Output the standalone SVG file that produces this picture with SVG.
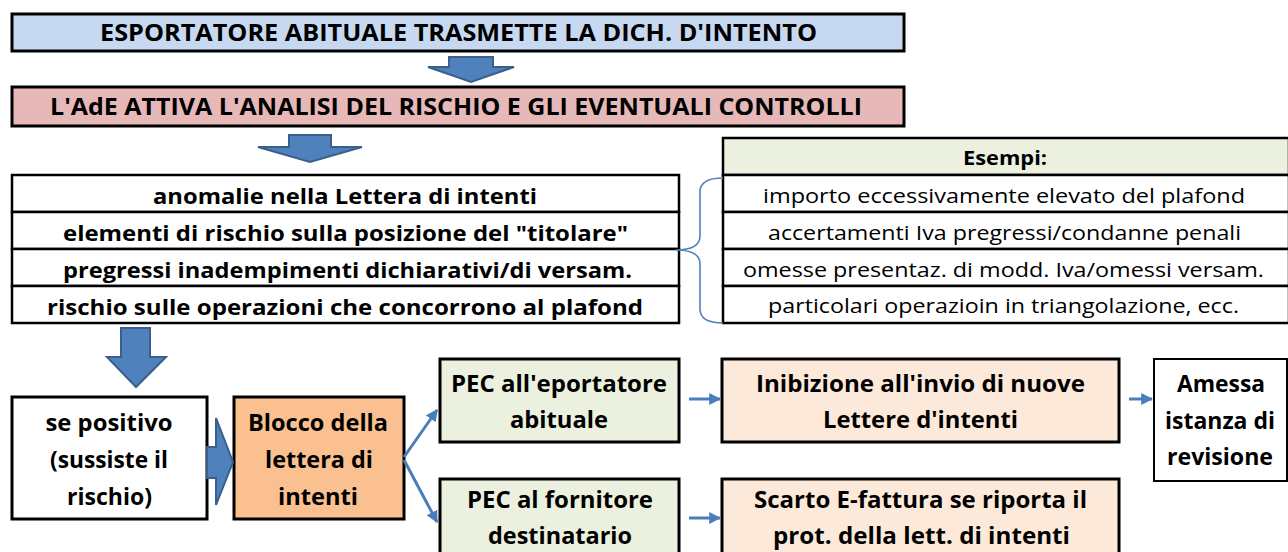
<svg xmlns="http://www.w3.org/2000/svg" width="1288" height="552" viewBox="0 0 1288 552">
<defs>
<style>
.box{stroke:#000;stroke-width:3}
.cell{fill:#fff;stroke:#000;stroke-width:2.5}
.t{font-family:"Open Sans","Liberation Sans",sans-serif;font-weight:bold;fill:#000;text-anchor:middle}
.n{font-family:"Open Sans","Liberation Sans",sans-serif;font-weight:normal;fill:#000;text-anchor:middle}
.s25{font-size:24px}
.s22{font-size:21px}
.s21{font-size:20px}
.blk{fill:#4f81bd;stroke:#3a5f8b;stroke-width:2;stroke-linejoin:miter}
.ln{fill:none;stroke:#4a7ebb;stroke-width:3}
</style>
<marker id="ah" viewBox="0 0 10 10" refX="9" refY="5" markerWidth="4" markerHeight="4" orient="auto" markerUnits="strokeWidth">
<path d="M0,0 L10,5 L0,10 z" fill="#4a7ebb"/>
</marker>
</defs>
<rect width="1288" height="552" fill="#fff"/>

<g id="n_title1">
<rect class="box" x="12" y="14" width="892" height="37" fill="#c6d9f1"/>
<text class="t s25" x="458.5" y="41" textLength="717" lengthAdjust="spacingAndGlyphs">ESPORTATORE ABITUALE TRASMETTE LA DICH. D'INTENTO</text>
</g>

<g id="n_title2">
<rect class="box" x="12" y="87" width="892" height="39" fill="#e6b9b8"/>
<text class="t s25" x="456" y="115" textLength="812" lengthAdjust="spacingAndGlyphs">L'AdE ATTIVA L'ANALISI DEL RISCHIO E GLI EVENTUALI CONTROLLI</text>
</g>

<g id="n_criteria">
<rect class="cell" x="12" y="175" width="667" height="37"/>
<rect class="cell" x="12" y="212" width="667" height="37"/>
<rect class="cell" x="12" y="249" width="667" height="37"/>
<rect class="cell" x="12" y="286" width="667" height="37"/>
<text class="t s22" x="345" y="204" textLength="384" lengthAdjust="spacingAndGlyphs">anomalie nella Lettera di intenti</text>
<text class="t s22" x="345.5" y="241" textLength="565" lengthAdjust="spacingAndGlyphs">elementi di rischio sulla posizione del "titolare"</text>
<text class="t s22" x="347.5" y="278" textLength="569" lengthAdjust="spacingAndGlyphs">pregressi inadempimenti dichiarativi/di versam.</text>
<text class="t s22" x="345" y="315" textLength="596" lengthAdjust="spacingAndGlyphs">rischio sulle operazioni che concorrono al plafond</text>
</g>

<g id="n_esempi">
<rect class="cell" x="723" y="138" width="566" height="37" style="fill:#ebf1de"/>
<rect class="cell" x="723" y="175" width="566" height="37"/>
<rect class="cell" x="723" y="212" width="566" height="37"/>
<rect class="cell" x="723" y="249" width="566" height="37"/>
<rect class="cell" x="723" y="286" width="566" height="37"/>
<text class="t s21" x="1005" y="165" textLength="84" lengthAdjust="spacingAndGlyphs">Esempi:</text>
<text class="n s21" x="1004" y="203" textLength="482" lengthAdjust="spacingAndGlyphs">importo eccessivamente elevato del plafond</text>
<text class="n s21" x="1004.5" y="240" textLength="473" lengthAdjust="spacingAndGlyphs">accertamenti Iva pregressi/condanne penali</text>
<text class="n s21" x="1003.5" y="277" textLength="521" lengthAdjust="spacingAndGlyphs">omesse presentaz. di modd. Iva/omessi versam.</text>
<text class="n s21" x="1003.5" y="313" textLength="471" lengthAdjust="spacingAndGlyphs">particolari operazioin in triangolazione, ecc.</text>
</g>

<g id="n_positivo">
<rect class="box" x="12" y="397" width="195" height="122" fill="#fff"/>
<text class="t s25" x="109" y="431" textLength="127" lengthAdjust="spacingAndGlyphs">se positivo</text>
<text class="t s25" x="109" y="468" textLength="118" lengthAdjust="spacingAndGlyphs">(sussiste il</text>
<text class="t s25" x="109.5" y="505" textLength="85" lengthAdjust="spacingAndGlyphs">rischio)</text>
</g>

<g id="n_blocco">
<rect class="box" x="234" y="397" width="170" height="122" fill="#fac090"/>
<text class="t s25" x="318" y="431" textLength="140" lengthAdjust="spacingAndGlyphs">Blocco della</text>
<text class="t s25" x="319" y="468" textLength="108" lengthAdjust="spacingAndGlyphs">lettera di</text>
<text class="t s25" x="318" y="505" textLength="80" lengthAdjust="spacingAndGlyphs">intenti</text>
</g>

<g id="n_pec1">
<rect class="box" x="440" y="359" width="239" height="83" fill="#ebf1de"/>
<text class="t s25" x="559" y="392" textLength="216" lengthAdjust="spacingAndGlyphs">PEC all'eportatore</text>
<text class="t s25" x="559" y="428" textLength="98" lengthAdjust="spacingAndGlyphs">abituale</text>
</g>

<g id="n_pec2">
<rect class="box" x="440" y="479" width="239" height="90" fill="#ebf1de"/>
<text class="t s25" x="560" y="508" textLength="186" lengthAdjust="spacingAndGlyphs">PEC al fornitore</text>
<text class="t s25" x="560" y="544" textLength="144" lengthAdjust="spacingAndGlyphs">destinatario</text>
</g>

<g id="n_inibizione">
<rect class="box" x="722" y="359" width="397" height="83" fill="#fde9d9"/>
<text class="t s25" x="920.5" y="392" textLength="329" lengthAdjust="spacingAndGlyphs">Inibizione all'invio di nuove</text>
<text class="t s25" x="920.5" y="428" textLength="195" lengthAdjust="spacingAndGlyphs">Lettere d'intenti</text>
</g>

<g id="n_scarto">
<rect class="box" x="722" y="479" width="397" height="90" fill="#fde9d9"/>
<text class="t s25" x="920.5" y="508" textLength="333" lengthAdjust="spacingAndGlyphs">Scarto E-fattura se riporta il</text>
<text class="t s25" x="921.5" y="544" textLength="297" lengthAdjust="spacingAndGlyphs">prot. della lett. di intenti</text>
</g>

<g id="n_amessa">
<rect x="1154" y="359" width="133" height="122" fill="#fff" stroke="#000" stroke-width="2"/>
<text class="t s25" x="1221" y="392" textLength="88" lengthAdjust="spacingAndGlyphs">Amessa</text>
<text class="t s25" x="1220" y="429" textLength="110" lengthAdjust="spacingAndGlyphs">istanza di</text>
<text class="t s25" x="1220" y="465" textLength="106" lengthAdjust="spacingAndGlyphs">revisione</text>
</g>

<g id="connectors">
<path class="blk" d="M449,57 H493 V67 H514 L471,82 L428,67 H449 Z"/>
<path class="blk" d="M289,135 H331 V147 H362 L310,162 L258,147 H289 Z"/>
<path class="blk" d="M121,328 H150 V357 H166 L136,387 L107,357 H121 Z"/>
<path class="blk" d="M207,447 H216 V418 L233,462 L216,505 V478 H207 Z"/>
<path d="M723,178 C708,178 700,182 700,192 V236 C700,246 690,250 676,250 C690,250 700,254 700,264 V309 C700,319 708,323 723,323" fill="none" stroke="#4f81bd" stroke-width="1.6"/>
<line class="ln" x1="404" y1="457" x2="437" y2="410" marker-end="url(#ah)"/>
<line class="ln" x1="404" y1="460" x2="437" y2="522" marker-end="url(#ah)"/>
<line class="ln" x1="689" y1="399" x2="720" y2="399" marker-end="url(#ah)"/>
<line class="ln" x1="689" y1="518" x2="720" y2="518" marker-end="url(#ah)"/>
<line class="ln" x1="1129" y1="399" x2="1152" y2="399" marker-end="url(#ah)"/>
</g>
</svg>
